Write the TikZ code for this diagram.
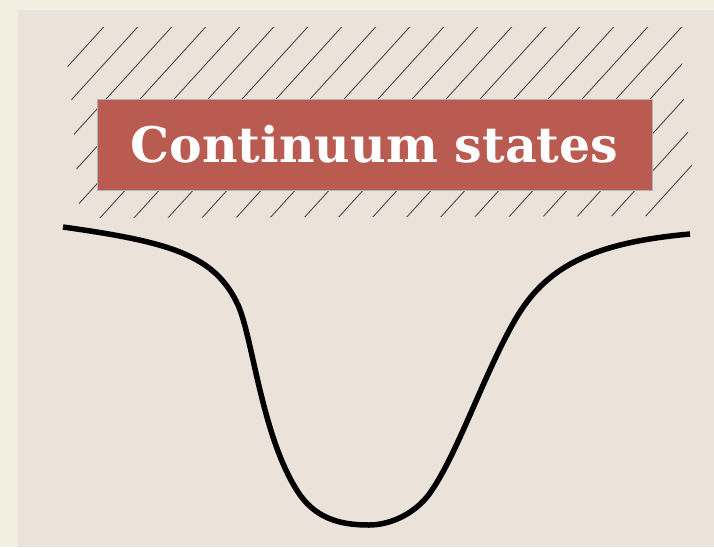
\documentclass[tikz,border=0pt]{standalone}
\usepackage{fontspec}
\newfontfamily\boxfont{DejaVu Serif}
\usepackage{xcolor}
\usepackage{tikz}
\usetikzlibrary{shadows}
\definecolor{pagecream}{HTML}{F3EEDF}
\definecolor{panelbeige}{HTML}{EBE2DA}
\definecolor{boxred}{HTML}{BA5B51}
\definecolor{hatchgray}{HTML}{4A4A4A}
\tikzset{
  % Scene styles
  hatchline/.style={draw=hatchgray, line width=0.9pt},
  titlebox/.style={rectangle, fill=boxred, draw=gray!60, line width=0.4pt, minimum width=555pt, minimum height=91pt, inner sep=0pt, text=white, font=\boxfont\bfseries\fontsize{49}{60}\selectfont, drop shadow={shadow xshift=0.6pt, shadow yshift=-1.2pt, opacity=0.35}},
  potential/.style={draw=black, line width=5.5pt, line cap=butt},
}

\begin{document}
\begin{tikzpicture}[x=1pt, y=-1pt]
    \useasboundingbox (0,0) rectangle (714,547);
    % Background
    \fill[pagecream] (0,0) rectangle (714,547);
    \fill[panelbeige] (18,10) rectangle (714,547);

    % Hatching of the continuum
    \begin{scope}
      \clip (67,62) -- (102,27) -- (686,27) -- (681,75) -- (694,180) -- (660,216) -- (80,218) -- (72,105) -- cycle;
      \foreach \k in {0,...,23}
        \draw[hatchline] (-81+34*\k, 230) -- ++(191, -210);
    \end{scope}

    % Label
    \node[titlebox] (cont) at (374.5,144.5) {Continuum states};

    % Potential well
    \draw[potential] (63,227) .. controls (170,242) and (215,255) .. (238,305)
      .. controls (253,338) and (262,440) .. (300,495)
      .. controls (318,520) and (343,525) .. (369,525)
      .. controls (392,525) and (418,512) .. (432,490)
      .. controls (458,452) and (485,372) .. (515,320)
      .. controls (545,268) and (590,243) .. (690,234);
\end{tikzpicture}
\end{document}
